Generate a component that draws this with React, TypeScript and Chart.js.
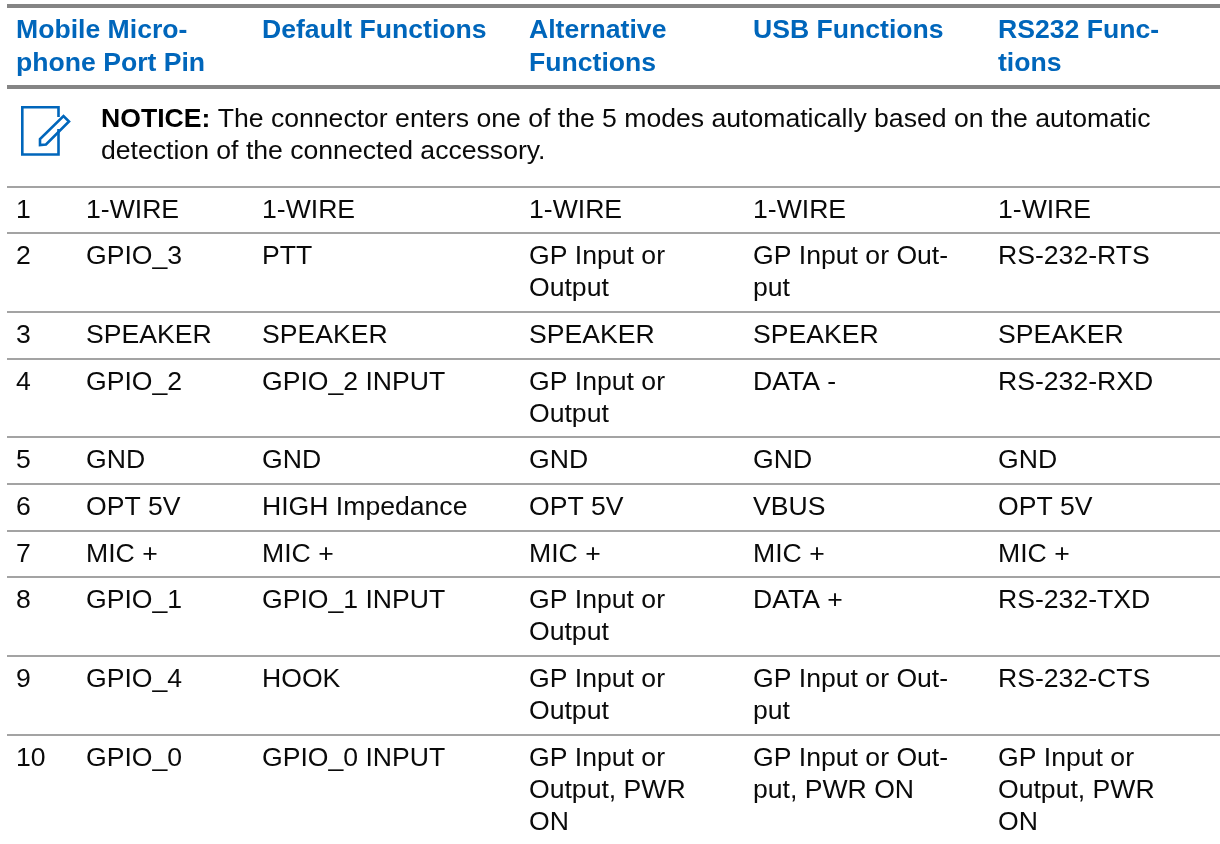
import React, { useEffect, useRef } from "react";
import { Chart, registerables } from "chart.js";

Chart.register(...registerables);

const headers = [
  "Mobile Micro-\nphone Port Pin",
  "Default Functions",
  "Alternative\nFunctions",
  "USB Functions",
  "RS232 Func-\ntions",
];
const pins = ["1", "2", "3", "4", "5", "6", "7", "8", "9", "10"];
const signals = ["1-WIRE", "GPIO_3", "SPEAKER", "GPIO_2", "GND", "OPT 5V", "MIC +", "GPIO_1", "GPIO_4", "GPIO_0"];
const defaultFunctions = ["1-WIRE", "PTT", "SPEAKER", "GPIO_2 INPUT", "GND", "HIGH Impedance", "MIC +", "GPIO_1 INPUT", "HOOK", "GPIO_0 INPUT"];
const alternativeFunctions = ["1-WIRE", "GP Input or\nOutput", "SPEAKER", "GP Input or\nOutput", "GND", "OPT 5V", "MIC +", "GP Input or\nOutput", "GP Input or\nOutput", "GP Input or\nOutput, PWR\nON"];
const usbFunctions = ["1-WIRE", "GP Input or Out-\nput", "SPEAKER", "DATA -", "GND", "VBUS", "MIC +", "DATA +", "GP Input or Out-\nput", "GP Input or Out-\nput, PWR ON"];
const rs232Functions = ["1-WIRE", "RS-232-RTS", "SPEAKER", "RS-232-RXD", "GND", "OPT 5V", "MIC +", "RS-232-TXD", "RS-232-CTS", "GP Input or\nOutput, PWR\nON"];
const noticeLabel = "NOTICE:";
const noticeLines = [" The connector enters one of the 5 modes automatically based on the automatic", "detection of the connected accessory."];

const columnsData = [pins, signals, defaultFunctions, alternativeFunctions, usbFunctions, rs232Functions];
const columnX = [16, 86, 262, 529, 753, 998];
const headerX = [16, 262, 529, 753, 998];
const heavyRules = [6, 87];
const rowRules = [187, 233, 312, 359, 437, 484, 531, 577, 656, 735];

const BODY_FONT = '26.6px "Liberation Sans"';
const BOLD_FONT = 'bold 26.6px "Liberation Sans"';
const BLUE = "#0066bb";
const INK = "#0a0a0a";

type Cell = { x: number; y: number; text: string; font: string; color: string };

const cells: Cell[] = [];
headers.forEach((h, i) => {
  h.split("\n").forEach((line, k) => cells.push({ x: headerX[i], y: 38 + k * 32.5, text: line, font: BOLD_FONT, color: BLUE }));
});
columnsData.forEach((col, c) => {
  col.forEach((v, r) => {
    v.split("\n").forEach((line, k) =>
      cells.push({ x: columnX[c], y: rowRules[r] + 31 + k * 32, text: line, font: BODY_FONT, color: INK })
    );
  });
});

const tablePlugin = {
  id: "tableText",
  afterDatasetsDraw(chart: any) {
    const { ctx, scales } = chart;
    const meta = chart.getDatasetMeta(0);
    ctx.save();
    ctx.textBaseline = "alphabetic";
    ctx.textAlign = "left";
    meta.data.forEach((el: any, i: number) => {
      const c = cells[i];
      ctx.font = c.font;
      ctx.fillStyle = c.color;
      ctx.fillText(c.text, el.x, el.y);
    });

    const px = (v: number) => scales.x.getPixelForValue(v);
    const py = (v: number) => scales.y.getPixelForValue(v);

    ctx.font = BOLD_FONT;
    ctx.fillStyle = "#000";
    ctx.fillText(noticeLabel, px(101), py(127));
    const w = ctx.measureText(noticeLabel).width;
    ctx.font = BODY_FONT;
    ctx.fillStyle = INK;
    ctx.fillText(noticeLines[0], px(101) + w, py(127));
    ctx.fillText(noticeLines[1], px(101), py(158.5));

    ctx.strokeStyle = BLUE;
    ctx.lineWidth = 2.6;
    ctx.lineJoin = "miter";
    ctx.beginPath();
    ctx.moveTo(px(58.5), py(129));
    ctx.lineTo(px(58.5), py(154.5));
    ctx.lineTo(px(22.3), py(154.5));
    ctx.lineTo(px(22.3), py(107.3));
    ctx.lineTo(px(58.5), py(107.3));
    ctx.lineTo(px(58.5), py(117));
    ctx.stroke();
    ctx.beginPath();
    ctx.moveTo(px(40), py(139));
    ctx.lineTo(px(40), py(145));
    ctx.lineTo(px(46), py(144.5));
    ctx.lineTo(px(69), py(121.5));
    ctx.lineTo(px(63.5), py(116));
    ctx.closePath();
    ctx.stroke();
    ctx.restore();
  },
};

export default function App() {
  const ref = useRef<HTMLCanvasElement | null>(null);
  useEffect(() => {
    if (!ref.current) return;
    const allRules = [...heavyRules, ...rowRules];
    const chart = new Chart(ref.current, {
      type: "scatter",
      data: {
        datasets: [
          {
            label: "cells",
            data: cells.map((c) => ({ x: c.x, y: c.y })),
            pointRadius: 0,
            showLine: false,
          },
        ],
      },
      options: {
        animation: false,
        responsive: false,
        layout: { padding: { left: 7, right: 0, top: 0, bottom: 0 } },
        plugins: { legend: { display: false }, tooltip: { enabled: false }, title: { display: false } },
        scales: {
          x: {
            type: "linear",
            min: 7,
            max: 1220,
            display: false,
          },
          y: {
            type: "linear",
            reverse: true,
            min: 0,
            max: 844,
            display: true,
            border: { display: false },
            ticks: { display: false, autoSkip: false },
            afterBuildTicks: (axis: any) => {
              axis.ticks = allRules.map((value) => ({ value }));
            },
            grid: {
              drawTicks: false,
              color: (c: any) => (heavyRules.includes(c.tick?.value) ? "#858585" : "#a3a3a3"),
              lineWidth: (c: any) => (heavyRules.includes(c.tick?.value) ? 4 : 2),
            },
          },
        },
      },
      plugins: [tablePlugin],
    } as any);
    return () => chart.destroy();
  }, []);
  return (
    <canvas
      ref={ref}
      width={1220}
      height={844}
      style={{ position: "absolute", left: 0, top: 0, width: 1220, height: 844, background: "#fff" }}
    />
  );
}
